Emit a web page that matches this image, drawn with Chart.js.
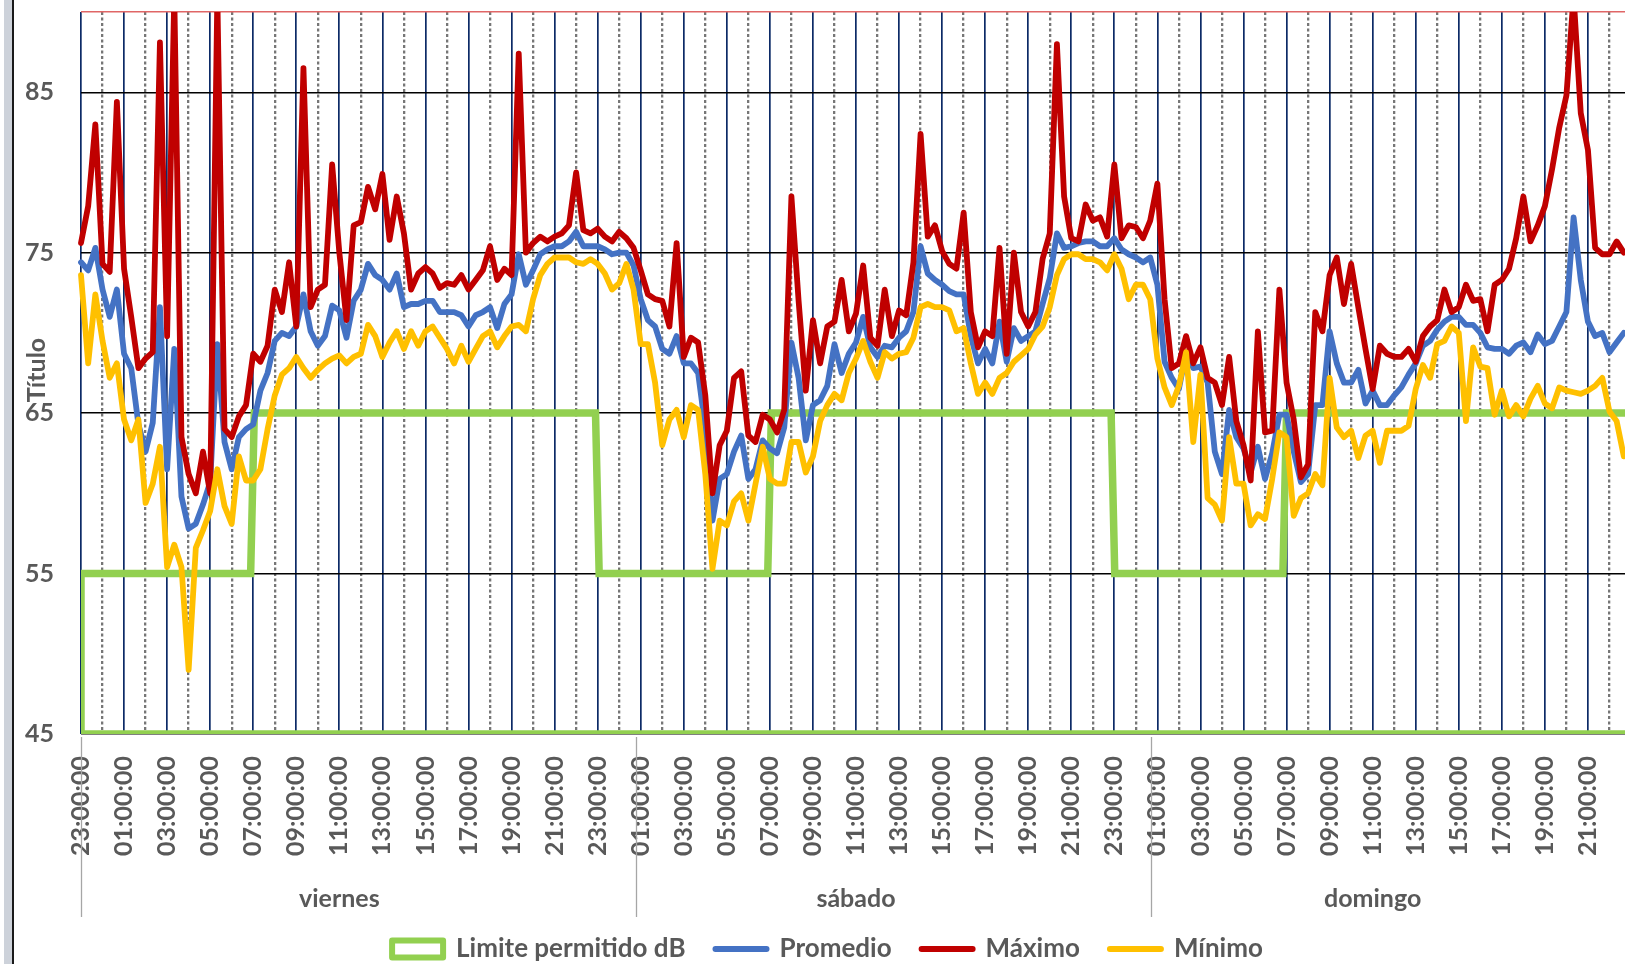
<!DOCTYPE html>
<html lang="es">
<head>
<meta charset="utf-8">
<title>Nivel sonoro</title>
<script src="https://cdn.jsdelivr.net/npm/chart.js@4.4.1/dist/chart.umd.min.js"></script>
<style>
  html, body { margin: 0; padding: 0; background: #fff; overflow: hidden; }
  #wrap { position: absolute; left: 0; top: 0; width: 1652px; height: 964px; }
  #frame { position: absolute; left: 4px; top: 0; width: 8px; height: 964px; background: #cdd2da; border-right: 2px solid #1a1a1a; }
</style>
</head>
<body>
<div id="wrap"><canvas id="chart" width="1652" height="964"></canvas></div>
<div id="frame"></div>
<script>
// one reading every 20 minutes, x = hours since 23:00 of the first day
const STEP = 1 / 3;

const maximo = [
  75.6, 77.9, 83, 74.3, 73.8, 84.4, 74, 71, 67.8, 68.4, 68.8, 88.1,
  69.8, 91, 63.5, 61.2, 60, 62.6, 60, 91, 64, 63.5, 64.8, 65.5,
  68.7, 68.2, 69.2, 72.7, 71.3, 74.4, 70.4, 86.5, 71.6, 72.7, 73, 80.5,
  75, 70.8, 76.7, 76.9, 79.1, 77.7, 79.9, 75.8, 78.5, 76.2, 72.7, 73.7,
  74.1, 73.7, 72.8, 73.1, 73, 73.6, 72.7, 73.3, 73.9, 75.4, 73.3, 74,
  73.6, 87.4, 75, 75.6, 76, 75.7, 76, 76.2, 76.7, 80, 76.4, 76.2,
  76.5, 76, 75.7, 76.3, 75.9, 75.3, 73.9, 72.4, 72.1, 72, 70.4, 75.6,
  68.5, 69.7, 69.4, 66.1, 60, 63, 63.9, 67.2, 67.6, 63.6, 63.2, 64.9,
  64.6, 63.8, 65.2, 78.5, 72, 66.4, 70.8, 68.1, 70.4, 70.7, 73.3, 70.1,
  71.2, 74.2, 69.7, 69.2, 72.7, 69.8, 71.4, 71.1, 74.4, 82.4, 76, 76.7,
  75.1, 74.3, 74, 77.5, 71.3, 69.1, 70.1, 69.8, 75.3, 68.7, 75, 71.3,
  70.4, 71.3, 74.6, 76.2, 88, 78.5, 75.9, 75.7, 78, 77, 77.2, 76,
  80.5, 75.9, 76.7, 76.6, 75.9, 77, 79.3, 72.1, 67.8, 68.1, 69.8, 68.1,
  69.1, 67.2, 66.9, 65.5, 68.5, 64.5, 63, 60.8, 70.1, 63.8, 63.9, 72.7,
  66.9, 64.6, 61, 61.8, 71.3, 70.1, 73.6, 74.7, 71.8, 74.3, 71.6, 69,
  66.5, 69.2, 68.7, 68.5, 68.5, 69, 68.2, 69.8, 70.4, 70.8, 72.7, 71.3,
  71.6, 73, 72, 72.1, 70.1, 73, 73.3, 74, 75.9, 78.5, 75.7, 76.7,
  77.9, 80.2, 82.8, 84.8, 91, 83.7, 81.4, 75.3, 74.9, 74.9, 75.7, 75
];

const promedio = [
  74.4, 73.9, 75.3, 72.7, 71, 72.7, 68.7, 67.8, 64.3, 62.6, 64.4, 71.6,
  61.5, 69, 59.8, 57.8, 58.1, 59.3, 60.7, 69.3, 63.2, 61.5, 63.5, 64,
  64.3, 66.4, 67.5, 69.5, 70, 69.8, 70.4, 72.4, 70.1, 69.2, 69.8, 71.7,
  71.4, 69.7, 72, 72.7, 74.3, 73.6, 73.3, 72.7, 73.7, 71.6, 71.8, 71.8,
  72, 72, 71.3, 71.3, 71.3, 71.1, 70.4, 71.1, 71.3, 71.6, 70.3, 71.8,
  72.4, 74.9, 73, 73.9, 74.9, 75.2, 75.4, 75.4, 75.7, 76.3, 75.4, 75.4,
  75.4, 75.2, 74.9, 75, 75, 74.2, 72.1, 70.8, 70.4, 69, 68.7, 69.8,
  68.1, 68.1, 67.5, 64.1, 58.3, 60.9, 61.2, 62.6, 63.6, 60.9, 61.5, 63.3,
  62.8, 62.5, 64.1, 69.4, 67.2, 63.3, 65.5, 65.8, 66.7, 69.3, 67.5, 68.7,
  69.4, 71, 69.1, 68.5, 69.2, 69.1, 69.7, 70.1, 71.3, 75.4, 73.7, 73.3,
  73, 72.6, 72.4, 72.4, 69.8, 68.1, 69, 68.1, 70.7, 68.2, 70.3, 69.5,
  69.8, 70.1, 71.8, 73.4, 76.2, 75.3, 75.4, 75.6, 75.7, 75.7, 75.4, 75.4,
  75.9, 75.2, 74.9, 74.7, 74.4, 74.7, 73, 68.2, 67.2, 66.5, 68.8, 67.8,
  67.9, 66.9, 62.6, 61.2, 65.2, 63.5, 62.8, 61.3, 62.9, 60.9, 62.5, 64.9,
  64.9, 62.6, 60.7, 61.2, 65.5, 65.5, 70.1, 68.1, 66.9, 66.9, 67.7, 65.6,
  66.4, 65.5, 65.5, 66.1, 66.6, 67.4, 68.1, 69.2, 69.5, 70.2, 70.7, 71,
  71, 70.5, 70.5, 70, 69.1, 69, 69, 68.7, 69.2, 69.4, 68.8, 69.9,
  69.3, 69.5, 70.4, 71.3, 77.2, 73.3, 70.7, 69.8, 70, 68.8, 69.4, 70
];

const minimo = [
  73.6, 68.1, 72.4, 69.5, 67.2, 68.1, 64.6, 63.3, 64.6, 59.4, 60.6, 62.9,
  55.4, 56.8, 55.4, 49, 56.6, 57.7, 58.9, 61.5, 59.2, 58.1, 62.3, 60.8,
  60.8, 61.5, 64, 66.1, 67.4, 67.8, 68.5, 67.8, 67.2, 67.7, 68.1, 68.4,
  68.6, 68.1, 68.5, 68.7, 70.5, 69.8, 68.5, 69.4, 70.1, 69, 70.1, 69.2,
  70.1, 70.4, 69.7, 69, 68.1, 69.2, 68.2, 69, 69.8, 70.1, 69.1, 69.8,
  70.4, 70.5, 70.1, 72.1, 73.6, 74.3, 74.7, 74.7, 74.7, 74.4, 74.3, 74.6,
  74.3, 73.7, 72.7, 73.1, 74.3, 72.7, 69.3, 69.3, 66.9, 63, 64.6, 65.2,
  63.5, 65.5, 65.2, 61.2, 55.3, 58.3, 58, 59.5, 60, 58.3, 60.6, 62.9,
  60.9, 60.6, 60.6, 63.2, 63.2, 61.3, 62.3, 64.5, 65.5, 66.2, 65.8, 67.5,
  68.4, 69.5, 68.2, 67.2, 68.8, 68.4, 68.7, 68.8, 69.7, 71.6, 71.8, 71.6,
  71.6, 71.4, 70.1, 70.3, 68.1, 66.2, 66.9, 66.2, 67.2, 67.5, 68.2, 68.6,
  69, 69.9, 70.4, 71.6, 73.6, 74.6, 74.9, 74.9, 74.6, 74.6, 74.4, 73.9,
  74.9, 74, 72.1, 73, 73, 72.1, 68.4, 66.6, 65.5, 66.7, 68.8, 63.2,
  67.4, 59.7, 59.3, 58.3, 63.5, 60.6, 60.6, 58, 58.7, 58.4, 60.9, 63.8,
  63.5, 58.6, 59.7, 60, 61.2, 60.5, 67.2, 64.1, 63.5, 63.9, 62.2, 63.6,
  63.9, 61.9, 63.9, 63.9, 63.9, 64.2, 66.5, 68, 67.2, 69.3, 69.5, 70.4,
  70, 64.5, 69.1, 67.9, 67.8, 64.9, 66.4, 64.8, 65.5, 64.8, 65.9, 66.7,
  65.6, 65.3, 66.6, 66.4, 66.3, 66.2, 66.4, 66.7, 67.2, 65.1, 64.5, 62.3
];

// permitted limit: 55 dB at night, 65 dB by day
const limiteHoras = [0, 7.88, 8.05, 23.9, 24.07, 31.9, 32.07, 47.85, 48.02, 55.83, 56, 72];
const limiteValores = [55, 55, 65, 65, 55, 55, 65, 65, 55, 55, 65, 65];

const etiquetasHora = [
  '23:00:00', '01:00:00', '03:00:00', '05:00:00', '07:00:00', '09:00:00', '11:00:00', '13:00:00', '15:00:00', '17:00:00', '19:00:00', '21:00:00',
  '23:00:00', '01:00:00', '03:00:00', '05:00:00', '07:00:00', '09:00:00', '11:00:00', '13:00:00', '15:00:00', '17:00:00', '19:00:00', '21:00:00',
  '23:00:00', '01:00:00', '03:00:00', '05:00:00', '07:00:00', '09:00:00', '11:00:00', '13:00:00', '15:00:00', '17:00:00', '19:00:00', '21:00:00'
];
const ticksY = [45, 55, 65, 75, 85, 90];

const dias = ['viernes', 'sábado', 'domingo'];
const centroDias = [12, 36, 60];
const limitesDias = [0, 25.76, 49.7];

const GRIS = '#595959';
const FUENTE = 'Lato';

function puntos(valores) {
    return valores.map((v, i) => ({ x: i * STEP, y: v }));
}

// the limit series is an Excel area with no fill, so its outline closes along 45 dB
const limiteDatos = [{ x: 0, y: 45 }]
    .concat(limiteHoras.map((h, k) => ({ x: h, y: limiteValores[k] })))
    .concat([{ x: 72, y: 45 }, { x: 0, y: 45 }]);

const extras = {
    id: 'extras',
    afterDraw(chart) {
        const { ctx, chartArea } = chart;
        const x = chart.scales.x;
        ctx.save();
        ctx.strokeStyle = '#a6a6a6';
        ctx.lineWidth = 1.3;
        limitesDias.forEach(h => {
            const px = Math.round(x.getPixelForValue(h)) + 0.5;
            ctx.beginPath();
            ctx.moveTo(px, chartArea.bottom + 3);
            ctx.lineTo(px, chartArea.bottom + 183);
            ctx.stroke();
        });
        ctx.fillStyle = GRIS;
        ctx.font = 'bold 25px ' + FUENTE;
        ctx.textAlign = 'center';
        ctx.textBaseline = 'alphabetic';
        dias.forEach((d, k) => ctx.fillText(d, x.getPixelForValue(centroDias[k]), chartArea.bottom + 173));
        ctx.translate(37, 370);
        ctx.rotate(-Math.PI / 2);
        ctx.textBaseline = 'middle';
        ctx.fillText('Título', 0, 0);
        ctx.restore();
    }
};

const linea = { pointRadius: 0, tension: 0, fill: false, borderJoinStyle: 'round', borderCapStyle: 'round', clip: { left: 5, top: 0, right: 5, bottom: 5 } };

new Chart(document.getElementById('chart'), {
    type: 'line',
    data: {
        datasets: [
            { label: 'Limite permitido dB', data: limiteDatos, borderColor: '#92D050', borderWidth: 7.5, pointRadius: 0, tension: 0, fill: false, order: 4, legendStyle: 'rect', legendFill: '#ffffff' },
            Object.assign({ label: 'Promedio', data: puntos(promedio), borderColor: '#4472C4', borderWidth: 5.8, order: 3, legendStyle: 'line' }, linea),
            Object.assign({ label: 'Máximo', data: puntos(maximo), borderColor: '#C00000', borderWidth: 5.8, order: 2, legendStyle: 'line' }, linea),
            Object.assign({ label: 'Mínimo', data: puntos(minimo), borderColor: '#FFC000', borderWidth: 5.8, order: 1, legendStyle: 'line' }, linea)
        ]
    },
    options: {
        responsive: false,
        animation: false,
        layout: { padding: { left: 24, right: 21, top: 12, bottom: -8 } },
        scales: {
            x: {
                type: 'linear', min: 0, max: 72,
                afterBuildTicks: s => { s.ticks = etiquetasHora.map((_, k) => ({ value: 2 * k })); },
                ticks: {
                    autoSkip: false, minRotation: 90, maxRotation: 90, padding: 22, color: GRIS,
                    font: { family: FUENTE, size: 25, weight: 'bold' },
                    callback: (v, k) => etiquetasHora[k]
                },
                grid: { color: '#0c2a66', lineWidth: 1.7, drawTicks: false },
                border: { display: false },
                afterFit: s => { s.height = 172; s.paddingLeft = 0; s.paddingRight = 0; }
            },
            x2: {
                type: 'linear', min: 0, max: 72, position: 'bottom',
                afterBuildTicks: s => { s.ticks = etiquetasHora.map((_, k) => ({ value: 2 * k + 1 })); },
                ticks: { display: false },
                grid: { color: '#767676', lineWidth: 2.3, drawTicks: false, borderDash: [3, 2.5] },
                border: { display: false, dash: [3, 2.5] },
                afterFit: s => { s.height = 0; s.paddingLeft = 0; s.paddingRight = 0; }
            },
            y: {
                min: 45, max: 90,
                afterBuildTicks: s => { s.ticks = ticksY.map(v => ({ value: v })); },
                ticks: {
                    padding: 27, color: GRIS,
                    font: { family: FUENTE, size: 25, weight: 'bold' },
                    callback: v => (v === 90 ? '' : v)
                },
                grid: { color: c => (c.tick && c.tick.value === 90 ? '#e06666' : '#000000'), lineWidth: 1.4, drawTicks: false },
                border: { display: false },
                afterFit: s => { s.width = 57; s.paddingTop = 0; s.paddingBottom = 0; }
            }
        },
        plugins: {
            tooltip: { enabled: false },
            legend: {
                position: 'bottom',
                labels: {
                    usePointStyle: true, pointStyleWidth: 51, boxHeight: 17, padding: 30, color: GRIS,
                    font: { family: FUENTE, size: 26, weight: 'bold' },
                    generateLabels: chart => chart.data.datasets.map((ds, k) => ({
                        text: ds.label,
                        datasetIndex: k,
                        hidden: false,
                        pointStyle: ds.legendStyle,
                        fillStyle: ds.legendFill || ds.borderColor,
                        strokeStyle: ds.borderColor,
                        lineWidth: 6,
                        lineCap: 'round',
                        lineJoin: 'round',
                        fontColor: GRIS
                    }))
                }
            }
        }
    },
    plugins: [extras]
});
</script>
</body>
</html>
